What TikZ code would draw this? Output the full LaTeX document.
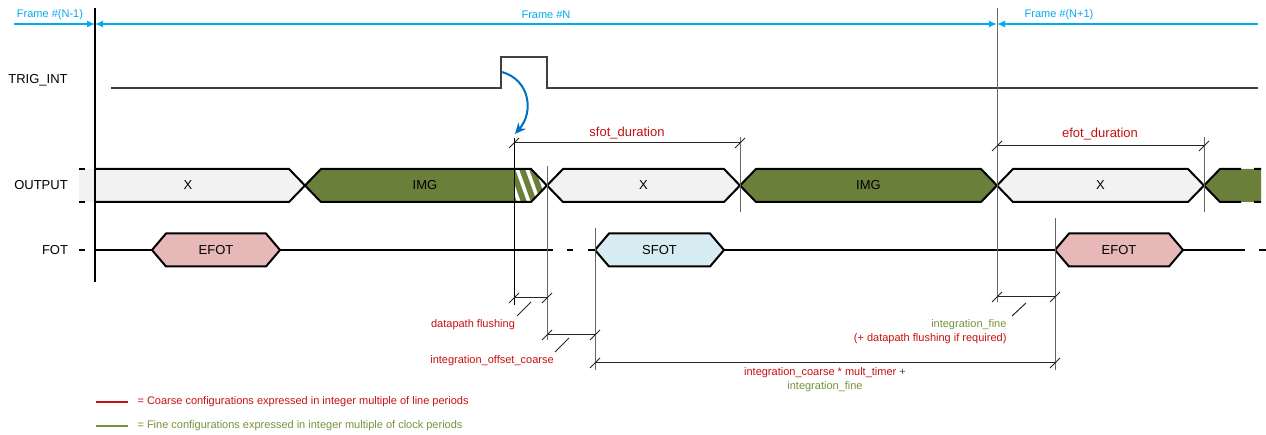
\documentclass[tikz,border=0pt]{standalone}
\usepackage{fontspec}
\setmainfont{Liberation Sans}
\usetikzlibrary{arrows.meta}
\definecolor{framecyan}{RGB}{0,172,236}
\definecolor{trigblue}{RGB}{0,112,192}
\definecolor{coarsered}{RGB}{200,16,16}
\definecolor{finegreen}{RGB}{118,146,60}
\definecolor{imggreen}{RGB}{106,128,58}
\definecolor{xgray}{RGB}{242,242,242}
\definecolor{efotpink}{RGB}{230,185,184}
\definecolor{sfotblue}{RGB}{214,236,242}
\begin{document}
\begin{tikzpicture}[line join=miter,x=1pt,y=-1pt,
  sig/.style={line width=2pt},
  guide/.style={line width=1pt,black!60},
  dim/.style={line width=1pt,black!85},
  frm/.style={line width=1.5pt,framecyan},
  big/.style={font=\fontsize{13}{15}\selectfont},
  sml/.style={font=\fontsize{11}{13}\selectfont},
  fr/.style={font=\fontsize{11}{13}\selectfont,text=framecyan}]
\useasboundingbox (0,0) rectangle (1266,435);
\coordinate (fstart) at (14,24);
\coordinate (fa) at (95,24);
\coordinate (fb) at (997,24);
\coordinate (fend) at (1258,24);
\draw [frm,-{Latex[length=8pt,width=7pt]}] (fstart) -- (fa);
\draw [frm,{Latex[length=8pt,width=7pt]}-{Latex[length=8pt,width=7pt]}] (fa) -- (fb);
\draw [frm,{Latex[length=8pt,width=7pt]}-] (fb) -- (fend);
\node [fr] (fprev) at (50,15) {Frame \#(N-1)};
\node [fr] (fcur) at (546,15) {Frame \#N};
\node [fr] (fnext) at (1059,15) {Frame \#(N+1)};
\node [big] (ltrig) at (38,80) {TRIG\_INT};
\node [big] (lout) at (41,185) {OUTPUT};
\node [big] (lfot) at (55,250) {FOT};
\draw [line width=1.5pt,black!75] (111,88) -- (501,88) -- (501,57) -- (547,57) -- (547,88) -- (1258,88);
\fill [xgray] (79,169) -- (289,169) -- (305,185.5) -- (289,202) -- (79,202) -- cycle;
\draw [sig] (79,169) -- (85,169) (79,202) -- (85,202);
\draw [sig] (95,169) -- (289,169) -- (305,185.5) -- (289,202) -- (95,202);
\node [big] (outx1) at (188,185.5) {X};
\fill [imggreen] (305,185.5) -- (321,169) -- (531,169) -- (547,185.5) -- (531,202) -- (321,202) -- cycle;
\begin{scope}
\clip (514,169) -- (531,169) -- (547,185.5) -- (531,202) -- (514,202) -- cycle;
\foreach \s in {506,516,526,536}
  \draw [white,line width=3.5pt] (\s,166) -- (\s+14,205);
\end{scope}
\draw [sig] (305,185.5) -- (321,169) -- (531,169) -- (547,185.5) -- (531,202) -- (321,202) -- cycle;
\node [big] (outimg1) at (425,185.5) {IMG};
\foreach \xa/\xb/\col/\txt in {547/740/xgray/X,740/997/imggreen/IMG,997/1204/xgray/X}
  \filldraw [sig,fill=\col] (\xa,185.5) -- (\xa+16,169) -- (\xb-16,169) -- (\xb,185.5) -- (\xb-16,202) -- (\xa+16,202) -- cycle
    node [big] (out\xa) at ({(\xa+\xb)/2},185.5) {\txt};
\fill [imggreen] (1204,185.5) -- (1220,169) -- (1261,169) -- (1261,202) -- (1220,202) -- cycle;
\draw [sig] (1204,185.5) -- (1220,169) -- (1241,169) (1254,169) -- (1261,169);
\draw [sig] (1204,185.5) -- (1220,202) -- (1241,202) (1254,202) -- (1261,202);
\draw [sig] (79,250) -- (85,250);
\draw [sig] (95,250) -- (152,250) (280,250) -- (553,250) (567,250) -- (573,250) (588,250) -- (595,250);
\draw [sig] (724,250) -- (1055,250) (1183,250) -- (1245,250) (1259,250) -- (1266,250);
\foreach \xa/\xb/\col/\txt in {152/280/efotpink/EFOT,595/724/sfotblue/SFOT,1055/1183/efotpink/EFOT}
  \filldraw [sig,fill=\col] (\xa,250) -- (\xa+14,233.5) -- (\xb-14,233.5) -- (\xb,250) -- (\xb-14,266.5) -- (\xa+14,266.5) -- cycle
    node [big] (fot\xa) at ({(\xa+\xb)/2},250) {\txt};
\draw [line width=1.2pt] (95,8) -- (95,282);
\draw [guide] (997,8) -- (997,302);
\draw [line width=1pt] (514,138) -- (514,305);
\draw [guide] (547,166) -- (547,340);
\draw [guide] (595,228) -- (595,370);
\draw [guide] (740,137) -- (740,212);
\draw [guide] (1204,137) -- (1204,212);
\draw [guide] (1055,218) -- (1055,370);
\coordinate (pulse) at (502,72);
\coordinate (flushtop) at (515,134);
\draw [trigblue,line width=2pt,-{Stealth[length=11pt,width=10pt]}] (pulse) .. controls (530,80) and (534,112) .. (flushtop);
\coordinate (sfotA) at (514,143);
\coordinate (sfotB) at (740,143);
\coordinate (efotA) at (997,146);
\coordinate (efotB) at (1204,146);
\coordinate (flushA) at (514,298);
\coordinate (flushB) at (547,298);
\coordinate (offA) at (547,335);
\coordinate (offB) at (595,335);
\coordinate (fineA) at (997,297);
\coordinate (fineB) at (1055,297);
\coordinate (coarseA) at (595,363);
\coordinate (coarseB) at (1055,363);
\draw [dim] (sfotA) -- (sfotB);
\draw [dim] (efotA) -- (efotB);
\draw [dim] (flushA) -- (flushB);
\draw [dim] (offA) -- (offB);
\draw [dim] (fineA) -- (fineB);
\draw [dim] (coarseA) -- (coarseB);
\foreach \p in {sfotA,sfotB,efotA,efotB,flushA,flushB,offA,offB,fineA,fineB,coarseA,coarseB}
  \draw [dim] (\p) +(-5,5) -- +(5,-5);
\draw [dim] (517,316) -- (531,302);
\draw [dim] (555,352) -- (569,338);
\draw [dim] (1012,316) -- (1026,303);
\node [big,text=coarsered] (lsfot) at (627,133) {sfot\_duration};
\node [big,text=coarsered] (lefot) at (1100,134) {efot\_duration};
\node [sml,text=coarsered] (lflush) at (473,325) {datapath flushing};
\node [sml,text=coarsered] (loff) at (492,361) {integration\_offset\_coarse};
\node [sml,text=finegreen,anchor=east] (lfine) at (1010,325) {integration\_fine};
\node [sml,text=coarsered,anchor=east] (lfine2) at (1010,339) {(+ datapath flushing if required)};
\node [sml,text=coarsered] (lcoarse) at (825,373) {integration\_coarse * mult\_timer \textcolor{black!70}{+}};
\node [sml,text=finegreen] (lcoarse2) at (825,387) {integration\_fine};
\draw [coarsered,line width=2pt] (96,402) -- (128,402);
\draw [finegreen,line width=2pt] (96,426) -- (128,426);
\node [sml,text=coarsered,anchor=west] (legc) at (134,402) {= Coarse configurations expressed in integer multiple of line periods};
\node [sml,text=finegreen,anchor=west] (legf) at (134,426) {= Fine configurations expressed in integer multiple of clock periods};
\end{tikzpicture}
\end{document}
